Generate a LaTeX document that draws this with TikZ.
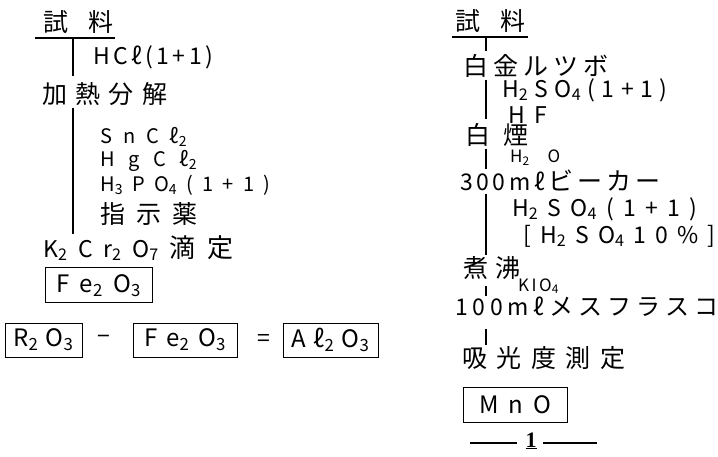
\documentclass[tikz,border=0pt]{standalone}
\usepackage{fontspec}
\setmainfont{Noto Sans CJK JP}
\newfontfamily\serfont{Liberation Serif}
\newcommand\spr[2]{\makebox[#1][s]{#2}}
\newcommand\sub[1]{\textsubscript{#1}}
\begin{document}
\begin{tikzpicture}[x=1pt,y=-1pt,
  every node/.style={inner sep=0pt,anchor=west,text=black},
  jp/.style={font=\fontsize{25}{25}\selectfont},
  fm/.style={font=\fontsize{23}{23}\selectfont},
  fs/.style={font=\fontsize{20}{20}\selectfont},
  frame/.style={draw=black,line width=1pt,anchor=center,font=\fontsize{24}{24}\selectfont},
  ln/.style={draw=black,line width=1.2pt}]
\useasboundingbox (0,0) rectangle (718,457);
\fill[white] (0,0) rectangle (718,457);
% ---------- left column ----------
\coordinate (tL) at (73,0);
\node[jp] (sL) at (43,22) {\spr{70pt}{試 料}};
\coordinate (uLa) at (35,38);
\coordinate (uLb) at (115,38);
\node[fm] (hcl) at (93,57) {\spr{120pt}{H C ℓ ( 1 + 1 )}};
\node[jp] (heat) at (42,94) {\spr{125pt}{加 熱 分 解}};
\node[fs] (sn) at (100,137) {\spr{87pt}{S n C ℓ\sub{2}}};
\node[fs] (hg) at (100,161) {\spr{97pt}{H g C ℓ\sub{2}}};
\node[fs] (hp) at (100,185) {\spr{170pt}{H\sub{3} P O\sub{4} ( 1 + 1 )}};
\node[jp] (ind) at (100,214) {\spr{97pt}{指 示 薬}};
\node[fm] (kcr) at (43,248) {\spr{190pt}{K\sub{2} C r\sub{2} O\sub{7} {\fontsize{26}{26}\selectfont 滴 定}}};
\node[frame,minimum width=107pt,minimum height=35pt] (fe1) at (98.5,285.5) {\spr{85pt}{F e\sub{2} O\sub{3}}};
\node[frame,minimum width=77pt,minimum height=34pt] (r2o3) at (43.5,340) {\spr{60pt}{R\sub{2} O\sub{3}}};
\node[fm,anchor=center] (minus) at (104,340) {−};
\node[frame,minimum width=104pt,minimum height=34pt] (fe2) at (185,340) {\spr{82pt}{F e\sub{2} O\sub{3}}};
\node[fm,anchor=center] (eq) at (264,340) {=};
\node[frame,minimum width=95pt,minimum height=34pt] (al) at (330.5,340) {\spr{78pt}{A ℓ\sub{2} O\sub{3}}};
\draw[ln] (uLa) -- (uLb);
\draw[ln] (uLa -| tL) -- ([yshift=6pt]heat.north -| tL);
\draw[ln] ([yshift=-2pt]heat.south -| tL) -- ([yshift=1pt]kcr.north -| tL);
% ---------- right column ----------
\coordinate (tR) at (486,0);
\node[jp] (sR) at (455,21) {\spr{70pt}{試 料}};
\coordinate (uRa) at (452,37);
\coordinate (uRb) at (528,37);
\node[jp] (pt) at (463,66) {\spr{145pt}{白 金 ル ツ ボ}};
\node[fm] (h2so4a) at (502,90) {\spr{165pt}{H\sub{2} S O\sub{4} ( 1 + 1 )}};
\node[fm] (hf) at (508,115) {\spr{39pt}{H F}};
\node[jp] (smoke) at (465,135) {\spr{63pt}{白 煙}};
\node[font=\fontsize{17}{17}\selectfont] (h2o) at (510,158) {\spr{50pt}{H\sub{2} O}};
\node[fm] (beaker) at (460,181) {\spr{200pt}{3 0 0 m ℓ {\fontsize{25}{25}\selectfont ビ ー カ ー}}};
\node[fm] (h2so4b) at (512,209) {\spr{185pt}{H\sub{2} S O\sub{4} ( 1 + 1 )}};
\node[fm] (pct) at (523,236) {\spr{192pt}{[ H\sub{2} S O\sub{4} 1 0 \% ]}};
\node[jp] (boil) at (463,268) {\spr{57pt}{煮 沸}};
\node[font=\fontsize{17}{17}\selectfont] (kio4) at (518,286) {\spr{34pt}{K I O\sub{4}}};
\node[fm] (flask) at (455,307) {\spr{263pt}{1 0 0 m ℓ {\fontsize{24}{24}\selectfont メ ス フ ラ ス コ}}};
\node[jp] (abs) at (462,358) {\spr{163pt}{吸 光 度 測 定}};
\node[frame,minimum width=104pt,minimum height=35pt] (mno) at (515,404.5) {\spr{72pt}{M n O}};
\node[anchor=center,font=\serfont\bfseries\fontsize{22}{22}\selectfont] (pg) at (531,441) {\underline{1}};
\draw[ln] (uRa) -- (uRb);
\draw[ln] (uRa -| tR) -- ([yshift=3pt]pt.north -| tR);
\draw[ln] ([yshift=-2pt]pt.south -| tR) -- ([yshift=4pt]smoke.north -| tR);
\draw[ln] ([yshift=-2pt]smoke.south -| tR) -- ([yshift=1pt]beaker.north -| tR);
\draw[ln] ([yshift=-2pt]beaker.south -| tR) -- ([yshift=1pt]boil.north -| tR);
\draw[ln] ([yshift=-6pt]boil.south -| tR) -- ([yshift=1pt]flask.north -| tR);
\draw[ln] ([yshift=-12pt]flask.south -| tR) -- ([yshift=1pt]abs.north -| tR);
\draw[ln] ([xshift=-61pt,yshift=-2pt]pg.center) -- ([xshift=-14pt,yshift=-2pt]pg.center);
\draw[ln] ([xshift=12pt,yshift=-2pt]pg.center) -- ([xshift=66pt,yshift=-2pt]pg.center);
\end{tikzpicture}
\end{document}
